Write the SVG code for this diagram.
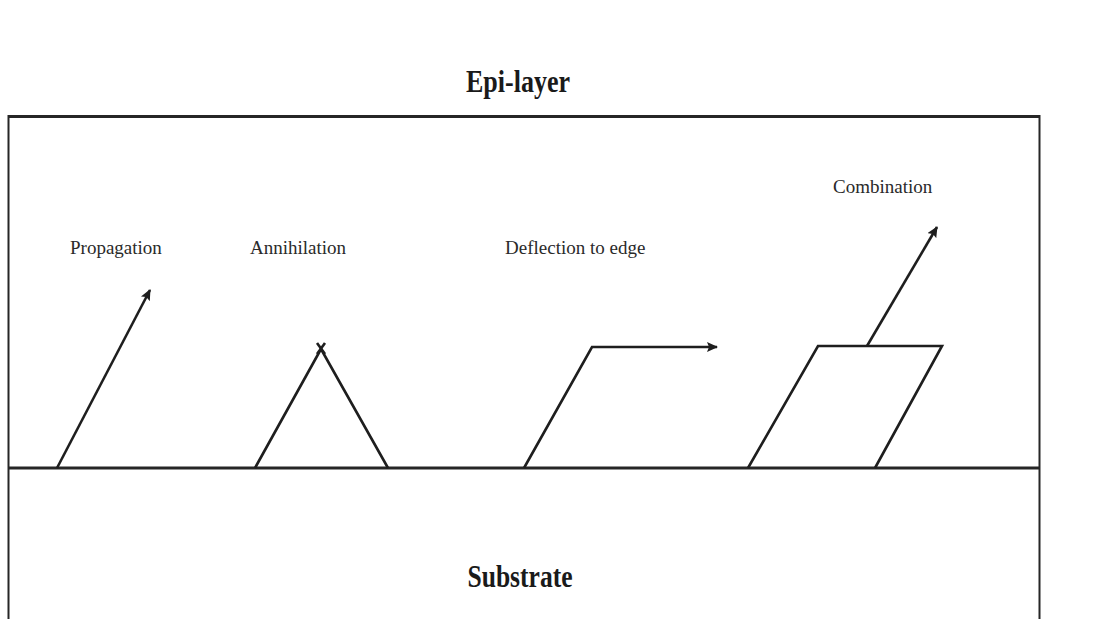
<svg xmlns="http://www.w3.org/2000/svg" width="1102" height="619" viewBox="0 0 1102 619">
  <defs>
    <marker id="ah" markerUnits="userSpaceOnUse" markerWidth="12" markerHeight="10" refX="10" refY="5" orient="auto">
      <path d="M0,0 L11,5 L0,10 L2,5 Z" fill="#1e1e1e"/>
    </marker>
  </defs>
  <style>
    .frame { stroke: #262626; fill: none; }
    .disl { stroke: #1e1e1e; stroke-width: 2.6; fill: none; stroke-linejoin: miter; stroke-linecap: butt; }
    .lbl { font-family: "Liberation Serif", "Times New Roman", serif; font-size: 19px; fill: #2a2a2a; }
    .title { font-family: "Liberation Serif", "Times New Roman", serif; font-size: 31px; font-weight: bold; fill: #1a1a1a; }
  </style>
  <rect width="1102" height="619" fill="#ffffff"/>
  <g id="frame">
    <line class="frame" x1="8" y1="116.5" x2="1040" y2="116.5" stroke-width="3"/>
    <line class="frame" x1="8.5" y1="115" x2="8.5" y2="619" stroke-width="2"/>
    <line class="frame" x1="1039.5" y1="115" x2="1039.5" y2="619" stroke-width="2"/>
    <line class="frame" x1="8" y1="468" x2="1040" y2="468" stroke-width="3"/>
  </g>
  <g id="epi-layer">
    <text class="title" x="518" y="92" text-anchor="middle" textLength="104" lengthAdjust="spacingAndGlyphs">Epi-layer</text>
  </g>
  <g id="substrate">
    <text class="title" x="520" y="587" text-anchor="middle" textLength="105" lengthAdjust="spacingAndGlyphs">Substrate</text>
  </g>
  <g id="propagation">
    <text class="lbl" x="70" y="254">Propagation</text>
  </g>
  <g id="annihilation">
    <text class="lbl" x="250" y="254">Annihilation</text>
  </g>
  <g id="deflection">
    <text class="lbl" x="505" y="254">Deflection to edge</text>
  </g>
  <g id="combination">
    <text class="lbl" x="833" y="193">Combination</text>
  </g>
  <g id="connectors">
    <line class="disl" x1="57" y1="468" x2="150" y2="290" marker-end="url(#ah)"/>
    <polyline class="disl" points="255,468 321,349 388,468"/>
    <line class="disl" x1="317" y1="343" x2="325" y2="354" stroke-width="2"/>
    <line class="disl" x1="325" y1="343" x2="317" y2="354" stroke-width="2"/>
    <polyline class="disl" points="524,468 592,347 717,347" marker-end="url(#ah)"/>
    <polyline class="disl" points="748,468 818,346 942,346 875,468"/>
    <line class="disl" x1="867" y1="346" x2="937" y2="227" marker-end="url(#ah)"/>
  </g>
</svg>
